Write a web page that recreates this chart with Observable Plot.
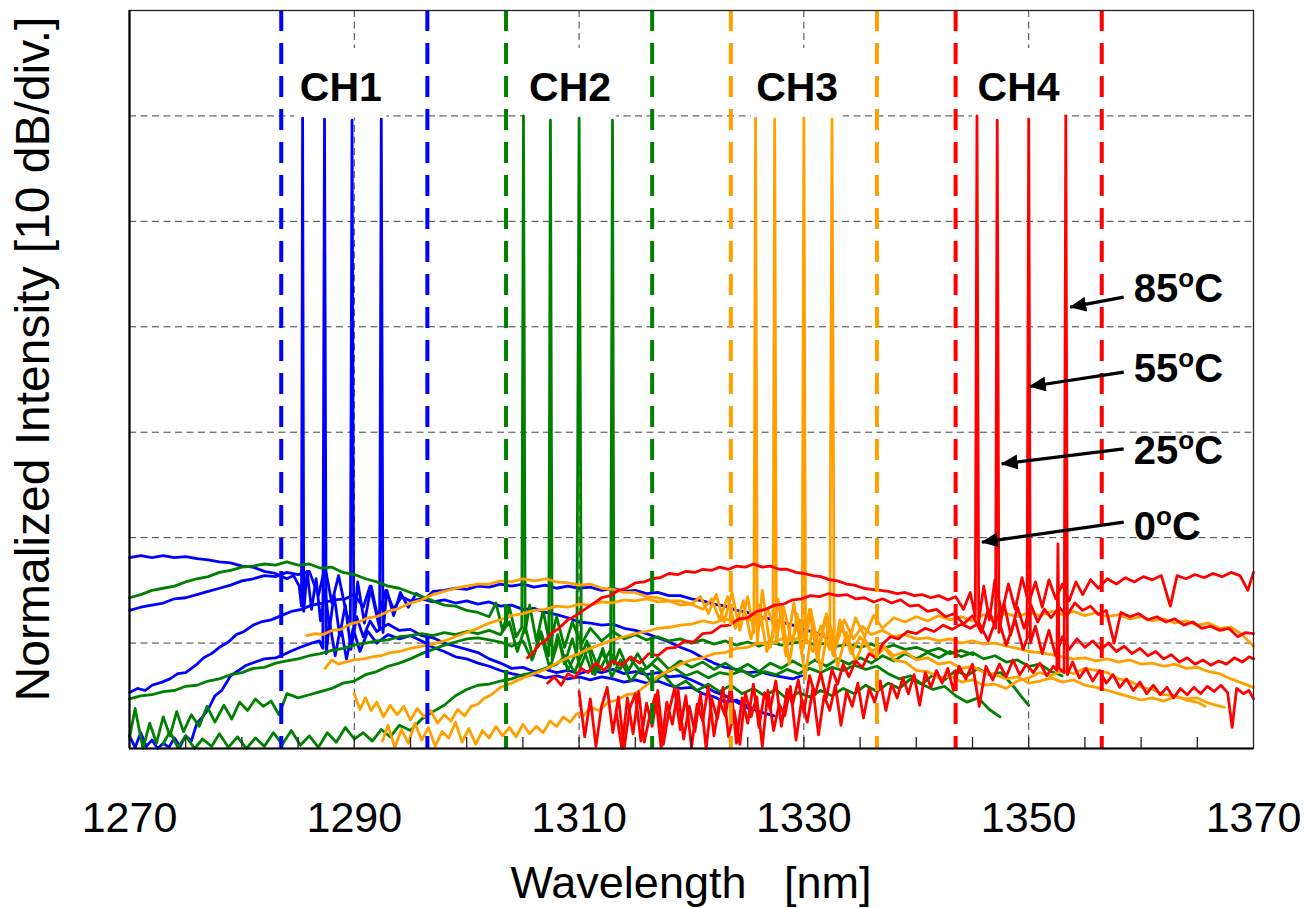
<!DOCTYPE html>
<html><head><meta charset="utf-8">
<script src="https://cdn.jsdelivr.net/npm/d3@7"></script>
<script src="https://cdn.jsdelivr.net/npm/@observablehq/plot@0.6"></script>
<style>body{margin:0;background:#fff}</style>
</head><body><div id="chart"></div>
<script>
// ---------- data ----------
const channels = ["CH1","CH2","CH3","CH4"];
const channelColors = ["#0000ff","#008000","#ffa000","#ff0000"];
const channelCenters = [1290,1310,1330,1350];
const channelHalfWidth = 6.5;
const chLabelX = [1288.8,1309.2,1329.4,1349.1];
const chLabelY = -7.3;
const xTickLabels = [1270,1290,1310,1330,1350,1370];
const xGrid = [1290,1310,1330,1350];
const yGrid = [-60,-50,-40,-30,-20,-10];
const minorTicks = [1275,1280,1285,1290,1295,1300,1305,1310,1315,1320,1325,1330,1335,1340,1345,1350,1355,1360,1365];
const temps = ["0","25","55","85"];
const tempLabelX = [1359.35,1359.35,1359.35,1359.35];
const tempLabelY = [-49.05,-41.8,-34.05,-26.45];
const arrowStartX = [1358.45,1358.45,1358.45,1358.45];
const arrowStartY = [-48.53,-41.58,-34.3,-27.19];
const arrowTipX = [1345.85,1347.6,1350.1,1353.7];
const arrowTipY = [-50.43,-43.0,-35.66,-28.14];

// CH1 (blue)
const ch1_0C = [[1270,-51.9],[1271,-51.7],[1272,-51.9],[1273,-51.7],[1274,-51.9],[1275,-51.8],[1276,-52.0],[1277,-52.1],[1278,-52.3],[1279,-52.4],[1280,-52.7],[1281,-52.8],[1282,-53.2],[1283,-53.4],[1284,-53.9],[1284.6,-53.6],[1285.1,-54.6],[1285.3,-56.5],[1285.4,-10.2],[1285.5,-57.0],[1285.8,-53.2],[1286.2,-56.8],[1286.6,-53.9],[1287.0,-57.9],[1287.4,-55.0],[1287.8,-58.6],[1288.2,-55.4],[1288.7,-59.3],[1289.2,-56.4],[1289.7,-60.6],[1290.2,-57.5],[1290.8,-59.4],[1291.4,-57.9],[1292,-58.9],[1293,-58.2],[1294,-58.8],[1295,-58.7],[1296,-59.3],[1297,-59.5],[1298,-60.0],[1299,-60.3],[1300,-60.6],[1301,-60.9],[1302,-61.5],[1303,-61.9],[1304,-62.4],[1305,-62.3],[1306,-62.7],[1307,-62.5],[1308,-62.8],[1309,-62.6],[1310,-62.9],[1311,-62.6],[1312,-62.8],[1313,-62.5],[1314,-62.9],[1315,-62.7],[1316,-63.0],[1317,-62.8],[1318,-63.2],[1319,-63.1],[1320,-63.5],[1321,-64.0],[1322,-64.6],[1323,-65.0],[1324,-65.6],[1325.4,-66.4]];
const ch1_25C = [[1270,-68.8],[1270.5,-69.9],[1271,-68.5],[1271.5,-69.8],[1272,-69.2],[1272.5,-70.0],[1273,-69.5],[1273.5,-69.9],[1274,-69.0],[1274.5,-69.8],[1275,-68.8],[1275.5,-69.3],[1276,-67.6],[1276.5,-67.0],[1277,-66.3],[1277.6,-65.0],[1278.2,-64.5],[1279,-63.1],[1279.7,-62.6],[1280.4,-62.1],[1281.2,-61.8],[1282,-61.5],[1283,-61.4],[1283.5,-61.2],[1284.3,-60.8],[1285.2,-60.4],[1286.2,-60.0],[1286.9,-59.8],[1287.2,-60.5],[1287.35,-10.3],[1287.5,-61.0],[1287.8,-58.0],[1288.3,-61.2],[1288.8,-58.4],[1289.3,-61.5],[1289.9,-58.6],[1290.5,-60.8],[1291.2,-58.9],[1292,-60.0],[1293,-59.2],[1294,-59.6],[1295,-59.3],[1296,-59.8],[1297,-60.4],[1298,-60.8],[1299,-61.3],[1300,-61.5],[1301,-61.9],[1302,-62.2],[1303,-62.6],[1304,-62.9],[1305,-63.1],[1306,-63.0],[1307,-63.3],[1308,-63.1],[1309,-63.4],[1310,-63.2],[1311,-63.5],[1312,-63.2],[1313,-63.4],[1314,-63.7],[1315,-63.5],[1316,-63.8],[1317,-63.6],[1318,-64.0],[1319,-64.3],[1320,-64.2],[1321,-64.8],[1322,-65.1],[1323,-65.6],[1324,-65.4],[1325,-66.0],[1326,-66.5],[1327.35,-66.9]];
const ch1_55C = [[1270,-56.9],[1271,-56.6],[1272,-56.4],[1273,-56.2],[1274,-55.8],[1275,-55.7],[1276,-55.4],[1277,-55.1],[1278,-54.8],[1279,-54.5],[1280,-54.1],[1281,-53.9],[1282,-53.6],[1283,-53.7],[1284,-53.3],[1285,-53.5],[1286,-53.2],[1286.8,-55.5],[1287.4,-52.8],[1288,-56.2],[1288.6,-53.6],[1289.3,-57.2],[1289.65,-58.0],[1289.8,-10.4],[1289.95,-58.5],[1290.3,-54.2],[1290.9,-58.1],[1291.5,-54.6],[1292.1,-57.6],[1292.8,-55.0],[1293.5,-56.8],[1294.2,-55.6],[1295,-56.0],[1296,-55.8],[1297,-56.1],[1298,-55.9],[1299,-56.2],[1300,-56.0],[1301,-56.3],[1302,-56.1],[1303,-56.5],[1304,-56.4],[1305,-56.8],[1306,-56.7],[1307,-57.1],[1308,-57.3],[1309,-57.6],[1310,-58.0],[1311,-58.1],[1312,-58.3],[1313,-58.2],[1314,-58.6],[1315,-58.8],[1316,-59.1],[1317,-59.5],[1318,-59.9],[1319,-60.4],[1320,-60.8],[1321,-61.4],[1322,-61.9],[1323,-62.3],[1324,-62.5],[1325,-62.8],[1326,-62.7],[1327,-63.0],[1328,-63.2],[1329,-63.4],[1329.8,-63.1]];
const ch1_85C = [[1270,-64.7],[1270.7,-64.3],[1271.4,-64.5],[1272,-64.0],[1272.9,-63.7],[1273.6,-63.4],[1274.3,-62.9],[1275,-62.8],[1275.9,-62.1],[1276.6,-61.4],[1277.3,-61.0],[1278,-60.4],[1278.8,-59.9],[1279.5,-59.2],[1280.2,-58.9],[1281,-58.3],[1281.7,-58.0],[1282.6,-57.8],[1283.5,-57.4],[1284.4,-57.0],[1285.3,-56.8],[1286.2,-56.4],[1287.2,-56.2],[1288.2,-55.9],[1289.2,-55.8],[1290,-55.4],[1290.8,-56.6],[1291.4,-54.6],[1292.0,-57.4],[1292.25,-58.6],[1292.4,-10.3],[1292.55,-59.0],[1292.9,-55.0],[1293.5,-57.4],[1294.1,-55.2],[1294.8,-56.6],[1295.5,-55.3],[1296.3,-55.8],[1297,-55.1],[1298,-55.0],[1299,-54.8],[1300,-54.9],[1301,-54.6],[1302,-54.7],[1303,-54.4],[1304,-54.6],[1305,-54.4],[1306,-54.7],[1307,-54.5],[1308,-54.8],[1309,-54.6],[1310,-54.8],[1311,-54.7],[1312,-55.0],[1313,-54.8],[1314,-55.1],[1315,-55.0],[1316,-55.3],[1317,-55.2],[1318,-55.5],[1319,-55.5],[1320,-55.8],[1321,-56.0],[1322,-56.3],[1323,-56.5],[1324,-56.9],[1325,-57.1],[1326,-57.5],[1327,-57.7],[1328,-58.0],[1329,-58.3],[1330,-58.7],[1331,-59.0],[1332.4,-59.6]];

// CH2 (green)
const ch2_0C = [[1270,-55.7],[1271,-55.4],[1272,-55.0],[1273,-54.8],[1274,-54.6],[1275,-54.2],[1276,-53.9],[1277,-53.7],[1278,-53.3],[1279,-53.1],[1280,-52.8],[1281,-52.7],[1282,-52.5],[1283,-52.6],[1284,-52.3],[1285,-52.6],[1286,-52.5],[1287,-52.9],[1288,-52.8],[1289,-53.3],[1290,-53.5],[1291,-53.9],[1292,-54.2],[1293,-54.6],[1294,-54.8],[1295,-55.2],[1296,-55.6],[1297,-56.0],[1298,-56.4],[1299,-56.5],[1300,-56.9],[1301,-57.1],[1302,-57.5],[1302.6,-56.2],[1303.2,-58.8],[1303.8,-56.6],[1304.4,-59.4],[1304.9,-58.5],[1305.05,-10.0],[1305.2,-59.0],[1305.6,-56.4],[1306.2,-59.8],[1306.8,-56.9],[1307.4,-60.2],[1308,-57.5],[1308.7,-60.4],[1309.4,-58.0],[1310.2,-60.1],[1311,-58.6],[1312,-59.8],[1313,-58.9],[1314,-59.6],[1315,-59.2],[1316,-59.7],[1317,-59.4],[1318,-59.8],[1319,-59.6],[1320,-60.0],[1321,-59.7],[1322,-60.1],[1323,-59.8],[1324,-60.2],[1325,-59.9],[1326,-60.3],[1327,-59.9],[1328,-60.2],[1329,-60.0],[1330,-59.8],[1331,-60.2],[1332,-60.0],[1333,-60.3],[1334,-60.1],[1335,-60.4],[1336,-60.1],[1337,-60.5],[1338,-60.2],[1339,-60.6],[1340,-60.4],[1341,-60.8],[1342,-60.5],[1343,-61.0],[1344,-60.7],[1345.05,-61.1]];
const ch2_25C = [[1270,-65.3],[1271,-65.0],[1272,-64.9],[1273,-64.6],[1274,-64.5],[1275,-64.1],[1276,-64.0],[1277,-63.6],[1278,-63.4],[1279,-63.0],[1280,-62.8],[1281,-62.4],[1282,-62.3],[1283,-61.9],[1284,-61.7],[1285,-61.5],[1286,-61.2],[1287,-61.0],[1288,-60.7],[1289,-60.5],[1290,-60.2],[1291,-60.0],[1292,-59.8],[1293,-59.7],[1294,-59.4],[1295,-59.3],[1296,-59.1],[1297,-59.3],[1298,-59.0],[1299,-59.2],[1300,-58.9],[1301,-59.1],[1302,-58.8],[1303,-59.2],[1303.8,-58.0],[1304.5,-60.8],[1305.2,-58.4],[1305.9,-61.4],[1306.6,-58.9],[1307.3,-61.2],[1307.45,-10.4],[1307.6,-61.6],[1308.1,-59.2],[1308.7,-62.0],[1309.4,-59.6],[1310.1,-62.3],[1310.9,-60.2],[1311.8,-62.6],[1312.7,-60.8],[1313.6,-62.5],[1314.5,-61.4],[1315.5,-62.7],[1316.5,-62.0],[1317.5,-62.9],[1318.5,-62.4],[1319.5,-63.1],[1320.5,-62.7],[1321.5,-63.3],[1322.5,-62.8],[1323.5,-63.0],[1324.5,-62.6],[1325.5,-63.2],[1326.5,-62.7],[1327.5,-63.0],[1328.5,-62.5],[1329.5,-62.9],[1330.5,-62.4],[1331.5,-62.8],[1332.5,-62.3],[1333.5,-62.6],[1334.5,-62.1],[1335.5,-62.5],[1336.5,-62.2],[1337.5,-62.9],[1338.5,-63.4],[1339.5,-63.1],[1340.5,-63.9],[1341.5,-64.4],[1342.5,-64.1],[1343.5,-65.0],[1344.5,-65.6],[1345.5,-65.2],[1346.5,-66.3],[1347.45,-67.0]];
const ch2_55C = [[1270,-69.0],[1270.5,-66.2],[1271.2,-70.0],[1271.8,-67.6],[1272.4,-69.5],[1273,-67.0],[1273.6,-68.8],[1274.2,-66.5],[1274.8,-68.4],[1275.5,-66.8],[1276.2,-67.9],[1276.9,-66.0],[1277.6,-67.5],[1278.4,-65.9],[1279.1,-67.2],[1279.8,-65.6],[1280.5,-66.4],[1281.2,-65.3],[1281.9,-66.0],[1282.6,-65.5],[1283.3,-66.8],[1284,-64.8],[1285,-65.2],[1286,-64.9],[1287,-64.6],[1288,-64.3],[1289,-63.8],[1290,-63.6],[1291,-63.0],[1292,-62.7],[1293,-62.2],[1294,-61.9],[1295,-61.5],[1296,-61.0],[1297,-60.6],[1298,-60.2],[1299,-59.9],[1300,-59.6],[1301,-59.5],[1302,-59.7],[1303,-59.9],[1304,-60.3],[1305,-59.8],[1305.8,-61.6],[1306.6,-59.2],[1307.4,-62.4],[1308.2,-59.6],[1309,-62.6],[1309.8,-60.8],[1310.0,-10.2],[1310.2,-61.2],[1310.7,-59.8],[1311.4,-63.0],[1312.1,-60.5],[1312.9,-63.2],[1313.7,-61.6],[1314.6,-63.6],[1315.5,-62.4],[1316.5,-63.8],[1317.5,-63.0],[1318.5,-64.2],[1319.5,-63.6],[1320.5,-64.5],[1321.5,-63.9],[1322.5,-64.6],[1323.5,-64.0],[1324.5,-64.8],[1325.5,-64.3],[1326.5,-65.0],[1327.5,-64.4],[1328.5,-65.3],[1329.5,-64.7],[1330.5,-65.1],[1331.5,-64.5],[1332.5,-65.0],[1333.5,-64.3],[1334.5,-64.8],[1335.5,-64.0],[1336.5,-64.6],[1337.5,-63.8],[1338.5,-64.3],[1339.5,-63.4],[1340.5,-63.9],[1341.5,-63.0],[1342.5,-63.5],[1343.5,-62.6],[1344.5,-63.1],[1345.5,-62.4],[1346.5,-63.0],[1347.5,-62.8],[1348.5,-63.9],[1349.3,-65.0],[1350,-65.9]];
const ch2_85C = [[1272.97,-69.6],[1273.6,-68.4],[1274.3,-69.9],[1275,-68.8],[1275.8,-70.0],[1276.5,-69.1],[1277.3,-69.8],[1278,-68.6],[1278.8,-69.9],[1279.6,-68.9],[1280.4,-70.0],[1281.2,-69.0],[1282,-69.8],[1282.8,-68.5],[1283.6,-69.6],[1284.4,-68.3],[1285.2,-69.7],[1286,-68.8],[1286.8,-69.9],[1287.6,-68.5],[1288.4,-69.4],[1289.2,-68.0],[1290,-69.1],[1290.8,-68.5],[1291.6,-69.3],[1292.4,-68.2],[1293.2,-68.9],[1294,-67.8],[1295,-68.3],[1296,-67.2],[1297,-66.5],[1298,-65.9],[1299,-65.0],[1300,-64.4],[1301,-64.0],[1302,-63.9],[1303,-63.6],[1304,-63.4],[1305,-63.0],[1306,-62.8],[1307,-62.4],[1308,-62.0],[1308.8,-61.2],[1309.6,-62.8],[1310.4,-60.6],[1311.2,-62.9],[1312,-60.9],[1312.8,-62.2],[1312.97,-10.4],[1313.1,-62.0],[1313.6,-60.6],[1314.4,-62.6],[1315.2,-61.0],[1316,-62.4],[1317,-61.4],[1318,-62.5],[1319,-61.7],[1320,-62.3],[1321,-61.8],[1322,-62.5],[1323,-61.9],[1324,-62.6],[1325,-62.0],[1326,-62.7],[1327,-61.9],[1328,-62.4],[1329,-61.7],[1330,-62.3],[1331,-61.6],[1332,-62.2],[1333,-61.5],[1334,-62.0],[1335,-61.4],[1336,-61.9],[1337,-61.2],[1338,-61.7],[1339,-61.0],[1340,-61.5],[1341,-60.9],[1342,-61.4],[1343,-60.8],[1344,-61.3],[1345,-60.9],[1346,-61.5],[1347,-61.2],[1348,-61.8],[1349,-61.6],[1350,-62.2],[1351,-62.0],[1352,-62.7],[1352.97,-63.1]];

// CH3 (orange)
const ch3_0C = [[1285.75,-59.3],[1286.5,-59.1],[1287.2,-59.2],[1288,-58.8],[1288.8,-58.7],[1289.6,-58.2],[1290.4,-58.0],[1291.2,-57.6],[1292,-57.5],[1293,-57.0],[1294,-56.7],[1295,-56.2],[1296,-55.9],[1297,-55.4],[1298,-55.1],[1299,-54.8],[1300,-54.6],[1301,-54.4],[1302,-54.4],[1303,-54.1],[1304,-54.2],[1305,-53.9],[1306,-54.1],[1307,-53.9],[1308,-54.2],[1309,-54.3],[1310,-54.5],[1311,-54.4],[1312,-54.8],[1313,-54.9],[1314,-55.2],[1315,-55.2],[1316,-55.6],[1317,-55.7],[1318,-56.0],[1319,-56.0],[1320,-56.3],[1320.8,-55.6],[1321.5,-57.2],[1322.2,-55.4],[1322.9,-58.0],[1323.6,-55.2],[1324.3,-58.8],[1325,-55.6],[1325.55,-59.0],[1325.7,-10.2],[1325.85,-60.0],[1326.3,-55.0],[1327,-60.4],[1327.7,-55.8],[1328.4,-61.2],[1329.1,-56.2],[1329.8,-61.0],[1330.5,-56.8],[1331.2,-61.6],[1331.9,-57.6],[1332.6,-61.2],[1333.4,-58.4],[1334.2,-61.0],[1335,-59.4],[1336,-60.8],[1337,-60.2],[1338,-61.6],[1339,-61.8],[1340,-62.6],[1341,-62.7],[1342,-63.3],[1343,-63.1],[1344,-63.7],[1345,-63.5],[1346,-64.0],[1347,-63.9],[1348,-64.3],[1349,-63.6],[1350,-63.3],[1351,-62.8],[1352,-63.1],[1353,-62.6],[1354,-62.9],[1355,-62.4],[1356,-62.6],[1357,-62.8],[1358,-63.4],[1359,-63.6],[1360,-64.2],[1361,-64.4],[1362,-64.9],[1363,-65.0],[1364,-65.4],[1365,-65.6],[1365.7,-66.0]];
const ch3_25C = [[1287.4,-62.4],[1288,-61.6],[1288.6,-62.0],[1289.2,-61.8],[1290,-61.6],[1290.8,-61.5],[1291.6,-61.3],[1292.4,-61.2],[1293.2,-60.9],[1294,-60.8],[1295,-60.5],[1296,-60.3],[1297,-60.1],[1298,-59.8],[1299,-59.4],[1300,-59.0],[1301,-58.6],[1302,-58.1],[1303,-57.8],[1304,-57.4],[1305,-57.2],[1306,-56.9],[1307,-56.8],[1308,-56.5],[1309,-56.6],[1310,-56.3],[1311,-56.4],[1312,-56.1],[1313,-56.2],[1314,-55.9],[1315,-56.0],[1316,-55.8],[1317,-56.1],[1318,-56.0],[1319,-56.4],[1320,-56.3],[1321,-56.8],[1321.8,-55.8],[1322.5,-57.8],[1323.2,-55.6],[1323.9,-58.6],[1324.6,-56.0],[1325.3,-59.6],[1326,-56.4],[1326.7,-60.8],[1327.25,-59.4],[1327.4,-10.3],[1327.55,-60.0],[1328,-56.6],[1328.7,-62.0],[1329.4,-57.2],[1330.1,-63.4],[1330.8,-58.0],[1331.5,-62.6],[1332.2,-58.2],[1333,-62.2],[1333.8,-59.0],[1334.6,-61.8],[1335.4,-59.6],[1336.3,-61.4],[1337.2,-60.4],[1338,-61.2],[1339,-60.8],[1340,-61.6],[1341,-61.4],[1342,-62.0],[1343,-61.8],[1344,-62.4],[1345,-62.2],[1346,-62.8],[1347,-63.0],[1348,-63.4],[1349,-63.2],[1350,-63.8],[1351,-63.6],[1352,-63.3],[1353,-63.7],[1354,-63.5],[1355,-64.0],[1356,-64.2],[1357,-64.5],[1358,-64.8],[1359,-65.1],[1360,-65.4],[1361,-65.2],[1362,-65.5],[1363,-65.1],[1364,-65.3],[1365,-65.2],[1366,-65.7],[1367.4,-66.1]];
const ch3_55C = [[1290,-64.8],[1290.5,-66.3],[1291,-65.2],[1291.5,-66.4],[1292,-65.6],[1292.6,-67.0],[1293.2,-65.9],[1293.8,-66.8],[1294.4,-66.0],[1295,-67.3],[1295.6,-66.2],[1296.2,-67.0],[1296.8,-66.4],[1297.4,-67.6],[1298,-66.8],[1298.6,-67.4],[1299.2,-66.3],[1299.8,-66.9],[1300.4,-66.0],[1301,-65.8],[1301.6,-65.2],[1302.2,-64.9],[1303,-64.2],[1304,-63.8],[1305,-63.3],[1306,-62.9],[1307,-62.5],[1308,-61.9],[1309,-61.4],[1310,-61.0],[1311,-60.5],[1312,-60.1],[1313,-59.7],[1314,-59.4],[1315,-59.1],[1316,-58.9],[1317,-58.6],[1318,-58.5],[1319,-58.3],[1320,-58.2],[1321,-57.9],[1322,-58.1],[1323,-57.7],[1324,-58.0],[1325,-57.6],[1326,-58.4],[1326.8,-56.8],[1327.5,-59.0],[1328.2,-56.6],[1328.9,-59.8],[1329.6,-57.8],[1329.85,-59.5],[1330,-10.2],[1330.15,-60.0],[1330.6,-56.8],[1331.3,-60.4],[1332,-57.2],[1332.8,-60.0],[1333.6,-57.8],[1334.4,-59.6],[1335.2,-58.4],[1336,-59.2],[1337,-58.8],[1338,-59.4],[1339,-59.2],[1340,-59.6],[1341,-59.5],[1342,-59.8],[1343,-59.6],[1344,-60.0],[1345,-59.8],[1346,-60.1],[1347,-60.0],[1348,-60.3],[1349,-60.5],[1350,-60.8],[1351,-60.9],[1352,-61.1],[1353,-61.3],[1354,-61.5],[1355,-61.4],[1356,-61.7],[1357,-61.5],[1358,-61.8],[1359,-61.6],[1360,-62.0],[1361,-61.9],[1362,-62.2],[1363,-62.0],[1364,-62.4],[1365,-62.3],[1366,-62.7],[1367,-62.9],[1368,-63.4],[1369,-63.8],[1370,-64.2]];
const ch3_85C = [[1292.5,-69.3],[1293,-67.8],[1293.6,-69.9],[1294.2,-68.2],[1294.8,-69.5],[1295.4,-67.6],[1296,-69.2],[1296.6,-68.0],[1297.2,-69.8],[1297.8,-68.4],[1298.4,-69.0],[1299,-67.5],[1299.6,-69.4],[1300.2,-68.1],[1300.8,-69.6],[1301.4,-68.3],[1302,-69.0],[1302.6,-67.9],[1303.2,-68.8],[1303.8,-68.0],[1304.4,-68.9],[1305,-67.7],[1305.6,-68.6],[1306.2,-67.9],[1306.8,-68.5],[1307.4,-67.4],[1308,-67.9],[1308.6,-67.0],[1309.2,-67.5],[1309.8,-66.7],[1310.4,-66.9],[1311,-66.1],[1311.8,-66.4],[1312.6,-65.6],[1313.4,-65.4],[1314.2,-64.9],[1315,-64.8],[1316,-64.0],[1317,-63.2],[1318,-62.6],[1319,-62.0],[1320,-61.6],[1321,-61.4],[1322,-61.0],[1323,-60.9],[1324,-60.5],[1325,-60.4],[1326,-60.0],[1327,-60.1],[1328,-59.6],[1329,-59.8],[1330,-59.2],[1330.8,-60.8],[1331.5,-58.4],[1332.3,-60.6],[1332.5,-10.3],[1332.7,-61.0],[1333.2,-57.8],[1333.9,-60.2],[1334.6,-57.6],[1335.4,-59.4],[1336.2,-57.4],[1337,-58.6],[1338,-57.6],[1339,-58.0],[1340,-57.5],[1341,-57.9],[1342,-57.4],[1343,-57.8],[1344,-57.5],[1345,-57.9],[1346,-57.3],[1347,-57.6],[1348,-57.2],[1349,-57.5],[1350,-57.1],[1351,-57.4],[1352,-57.0],[1353,-57.3],[1354,-57.0],[1355,-57.4],[1356,-57.1],[1357,-57.5],[1358,-57.3],[1359,-57.7],[1360,-57.5],[1361,-57.9],[1362,-57.7],[1363,-58.1],[1364,-57.9],[1365,-58.3],[1366,-58.1],[1367,-58.6],[1368,-58.5],[1369,-59.2],[1370,-60.3]];

// CH4 (red)
const ch4_0C = [[1305.4,-61.4],[1306,-60.8],[1306.5,-60.1],[1307,-59.8],[1307.5,-59.1],[1308.2,-58.6],[1309,-57.8],[1309.7,-57.4],[1310.5,-56.8],[1311.2,-56.3],[1312,-55.7],[1312.8,-55.5],[1313.5,-55.0],[1314.2,-54.8],[1315,-54.3],[1315.8,-54.2],[1316.5,-53.9],[1317.2,-53.8],[1318,-53.4],[1318.8,-53.5],[1319.5,-53.2],[1320.3,-53.3],[1321,-53.0],[1321.8,-53.1],[1322.5,-52.8],[1323.3,-53.0],[1324,-52.7],[1324.8,-52.8],[1325.5,-52.5],[1326.3,-52.8],[1327,-52.7],[1327.8,-53.0],[1328.5,-53.0],[1329.3,-53.3],[1330,-53.4],[1330.8,-53.6],[1331.5,-53.7],[1332.3,-54.0],[1333,-54.1],[1333.8,-54.4],[1334.5,-54.5],[1335.3,-54.8],[1336,-54.9],[1336.8,-55.0],[1337.5,-55.1],[1338.3,-55.3],[1339,-55.2],[1339.8,-55.5],[1340.5,-55.4],[1341.3,-55.7],[1342,-55.5],[1342.8,-55.9],[1343.5,-55.6],[1344.2,-56.8],[1344.8,-55.2],[1345.25,-57.5],[1345.4,-10.0],[1345.55,-58.0],[1346,-54.6],[1346.5,-57.8],[1347,-54.0],[1347.6,-57.2],[1348.2,-54.4],[1348.8,-56.8],[1349.4,-53.8],[1350,-56.2],[1350.6,-54.2],[1351.2,-56.6],[1351.8,-54.0],[1352.4,-55.8],[1353,-54.4],[1353.6,-56.0],[1354.2,-54.2],[1354.8,-55.4],[1355.5,-54.0],[1356.2,-54.8],[1357,-53.9],[1357.8,-54.4],[1358.6,-53.8],[1359.4,-54.2],[1360.2,-53.7],[1361,-54.0],[1361.8,-53.6],[1362.6,-56.5],[1363.2,-53.6],[1364,-53.9],[1364.8,-53.5],[1365.6,-53.8],[1366.4,-53.4],[1367.2,-53.7],[1368,-53.3],[1368.8,-53.6],[1369.5,-55.0],[1370,-53.3]];
const ch4_25C = [[1307.2,-63.8],[1307.8,-63.2],[1308.4,-64.0],[1309,-62.9],[1309.6,-63.3],[1310.2,-62.4],[1310.8,-62.8],[1311.5,-61.9],[1312.2,-62.6],[1313,-61.7],[1313.8,-62.1],[1314.6,-61.3],[1315.4,-61.9],[1316.2,-61.0],[1317,-61.2],[1317.8,-60.5],[1318.6,-60.4],[1319.4,-59.8],[1320.2,-59.9],[1321,-59.1],[1321.8,-59.0],[1322.6,-58.4],[1323.4,-58.3],[1324.2,-57.7],[1325,-57.6],[1325.8,-57.0],[1326.6,-56.8],[1327.4,-56.4],[1328.2,-56.3],[1329,-55.9],[1329.8,-55.8],[1330.6,-55.5],[1331.4,-55.6],[1332.2,-55.3],[1333,-55.5],[1333.8,-55.4],[1334.6,-55.8],[1335.4,-55.7],[1336.2,-56.1],[1337,-55.8],[1337.8,-56.2],[1338.6,-55.9],[1339.4,-56.5],[1340.2,-56.4],[1341,-57.0],[1341.8,-56.8],[1342.6,-57.5],[1343.4,-57.2],[1344.2,-58.2],[1345,-57.4],[1345.8,-59.0],[1346.4,-56.8],[1347.05,-58.6],[1347.2,-10.4],[1347.35,-59.0],[1347.8,-56.2],[1348.4,-59.2],[1349,-56.6],[1349.6,-58.6],[1350.2,-56.4],[1350.8,-58.0],[1351.4,-56.8],[1352,-57.6],[1352.7,-56.6],[1353.4,-57.4],[1354.1,-56.2],[1354.8,-56.9],[1355.5,-56.5],[1356.2,-57.3],[1356.9,-56.9],[1357.6,-60.0],[1358.2,-57.1],[1359,-57.5],[1359.8,-57.2],[1360.6,-57.8],[1361.4,-57.5],[1362.2,-58.0],[1363,-57.7],[1363.8,-58.3],[1364.6,-58.0],[1365.4,-58.6],[1366.2,-58.4],[1367,-58.8],[1367.8,-58.6],[1368.6,-59.4],[1369.3,-59.0],[1370,-59.1]];
const ch4_55C = [[1310,-64.6],[1310.5,-68.9],[1311,-65.3],[1311.5,-69.8],[1312,-66.0],[1312.5,-64.2],[1313,-68.5],[1313.5,-65.1],[1314,-70.0],[1314.5,-66.2],[1315,-64.8],[1315.5,-69.3],[1316,-65.7],[1316.5,-67.9],[1317,-64.5],[1317.5,-69.6],[1318,-66.4],[1318.5,-64.3],[1319,-68.2],[1319.5,-65.0],[1320,-69.9],[1320.5,-65.8],[1321,-67.4],[1321.5,-64.1],[1322,-68.8],[1322.5,-65.5],[1323,-66.9],[1323.5,-64.0],[1324,-69.5],[1324.5,-65.2],[1325,-67.6],[1325.5,-63.9],[1326,-68.0],[1326.5,-64.7],[1327,-66.3],[1327.5,-63.6],[1328,-67.9],[1328.5,-64.4],[1329,-65.8],[1329.5,-63.5],[1330,-66.6],[1330.5,-63.1],[1331,-64.9],[1331.5,-62.8],[1332,-65.2],[1332.5,-62.5],[1333,-63.9],[1333.5,-62.0],[1334,-63.2],[1334.6,-61.7],[1335.2,-62.3],[1335.8,-61.0],[1336.4,-61.4],[1337,-60.1],[1337.7,-59.4],[1338.4,-59.6],[1339.2,-58.9],[1340,-59.1],[1340.8,-58.6],[1341.6,-58.9],[1342.4,-58.3],[1343.2,-58.7],[1344,-58.2],[1344.8,-58.6],[1345.6,-58.1],[1346.4,-59.8],[1347.2,-57.4],[1348,-60.2],[1348.8,-57.8],[1349.5,-60.6],[1349.85,-59.6],[1350,-10.3],[1350.15,-60.0],[1350.6,-58.4],[1351.2,-61.0],[1351.8,-58.8],[1352.4,-61.2],[1353,-59.4],[1353.6,-60.6],[1354.3,-59.6],[1355,-60.4],[1355.7,-59.8],[1356.4,-60.6],[1357.1,-60.0],[1357.8,-60.8],[1358.5,-60.3],[1359.2,-61.0],[1359.9,-60.5],[1360.6,-61.2],[1361.3,-60.8],[1362,-61.5],[1362.7,-61.1],[1363.4,-61.8],[1364.1,-61.4],[1364.8,-62.0],[1365.5,-61.6],[1366.2,-62.1],[1366.9,-61.7],[1367.6,-62.0],[1368.3,-61.4],[1369,-61.8],[1369.6,-61.3],[1370,-61.5]];
const ch4_85C = [[1313.3,-66.5],[1313.8,-70.0],[1314.3,-65.2],[1314.8,-68.6],[1315.3,-64.6],[1315.8,-69.4],[1316.3,-66.8],[1316.8,-64.9],[1317.3,-69.9],[1317.8,-65.6],[1318.3,-67.7],[1318.8,-64.4],[1319.3,-69.1],[1319.8,-66.0],[1320.3,-68.4],[1320.8,-64.8],[1321.3,-70.0],[1321.8,-65.3],[1322.3,-67.2],[1322.8,-64.2],[1323.3,-68.9],[1323.8,-66.4],[1324.3,-69.6],[1324.8,-64.7],[1325.3,-67.0],[1325.8,-65.1],[1326.3,-69.8],[1326.8,-64.5],[1327.3,-68.3],[1327.8,-65.8],[1328.3,-66.9],[1328.8,-64.1],[1329.3,-69.2],[1329.8,-65.4],[1330.3,-67.5],[1330.8,-64.3],[1331.3,-68.7],[1331.8,-65.0],[1332.3,-66.4],[1332.8,-64.0],[1333.3,-67.8],[1333.8,-64.6],[1334.3,-66.0],[1334.8,-63.8],[1335.3,-67.1],[1335.8,-64.3],[1336.3,-65.6],[1336.8,-63.6],[1337.3,-66.4],[1337.8,-63.9],[1338.3,-65.2],[1338.8,-63.3],[1339.3,-64.8],[1339.8,-63.0],[1340.3,-65.9],[1340.8,-62.8],[1341.3,-64.2],[1341.8,-62.6],[1342.3,-63.8],[1342.8,-62.4],[1343.3,-64.5],[1343.8,-62.2],[1344.4,-63.4],[1345,-62.0],[1345.6,-66.0],[1346.2,-62.2],[1346.8,-63.5],[1347.4,-62.0],[1348,-63.2],[1348.6,-61.6],[1349.2,-63.0],[1349.8,-62.0],[1350.4,-62.8],[1351,-61.9],[1351.6,-63.1],[1352.2,-62.2],[1352.5,-62.6],[1352.6,-50.6],[1352.7,-62.4],[1353.15,-62.8],[1353.3,-10.0],[1353.45,-63.0],[1353.9,-61.8],[1354.5,-63.3],[1355.1,-62.4],[1355.7,-63.6],[1356.3,-62.6],[1356.9,-63.8],[1357.5,-63.0],[1358.1,-64.2],[1358.7,-63.4],[1359.3,-64.5],[1359.9,-63.7],[1360.5,-64.8],[1361.1,-64.0],[1361.7,-64.9],[1362.3,-64.2],[1362.9,-65.2],[1363.5,-64.3],[1364.1,-64.9],[1364.7,-64.2],[1365.3,-64.8],[1365.9,-64.1],[1366.5,-64.6],[1367.1,-64.0],[1367.7,-64.7],[1368.1,-68.0],[1368.5,-64.3],[1369.1,-64.8],[1369.6,-64.5],[1370,-65.3]];

// ---------- build ----------
const series = [
  ["CH1","0",ch1_0C],["CH1","25",ch1_25C],["CH1","55",ch1_55C],["CH1","85",ch1_85C],
  ["CH2","0",ch2_0C],["CH2","25",ch2_25C],["CH2","55",ch2_55C],["CH2","85",ch2_85C],
  ["CH3","0",ch3_0C],["CH3","25",ch3_25C],["CH3","55",ch3_55C],["CH3","85",ch3_85C],
  ["CH4","0",ch4_0C],["CH4","25",ch4_25C],["CH4","55",ch4_55C],["CH4","85",ch4_85C]
];
const rows = series.flatMap(([ch,t,pts]) => pts.map(([x,y]) => ({ch, key: ch+"-"+t, x, y})));
const edges = channels.flatMap((c,i) => [{ch:c, x:channelCenters[i]-channelHalfWidth},{ch:c, x:channelCenters[i]+channelHalfWidth}]);
const xDomain = [1270,1370], yDomain = [-70,0];
const W = 1306, H = 908, mL = 129, mR = 53, mT = 10, mB = 160;
const frameH = H - mT - mB;

const plot = Plot.plot({
  width: W, height: H,
  marginLeft: mL, marginRight: mR, marginTop: mT, marginBottom: mB,
  x: {domain: xDomain, label: null},
  y: {domain: yDomain, axis: null, label: null},
  color: {domain: channels, range: channelColors},
  style: {fontFamily: '"Liberation Sans", Arial, Helvetica, sans-serif', background: "white", color: "black"},
  marks: [
    Plot.gridX(xGrid, {stroke: "#404040", strokeOpacity: 1, strokeWidth: 1, strokeDasharray: "7,4.5"}),
    Plot.gridY(yGrid, {stroke: "#404040", strokeOpacity: 1, strokeWidth: 1, strokeDasharray: "7,4.5"}),
    Plot.rect(channels, {x1: (d,i) => chLabelX[i]-4.1, x2: (d,i) => chLabelX[i]+4.1, y1: -3.6, y2: -10.2, fill: "white"}),
    Plot.line(rows, {x: "x", y: "y", z: "key", stroke: "ch", strokeWidth: 2.8, strokeLinejoin: "round"}),
    Plot.ruleX(edges, {x: "x", stroke: "ch", strokeWidth: 4, strokeDasharray: "21,12"}),
    Plot.text(channels, {x: (d,i) => chLabelX[i], y: chLabelY, text: d => d, fontSize: 41, fontWeight: "bold", fill: "black"}),
    Plot.link(temps, {x1: (d,i) => arrowStartX[i], y1: (d,i) => arrowStartY[i], x2: (d,i) => arrowTipX[i], y2: (d,i) => arrowTipY[i], stroke: "black", strokeWidth: 3.2}),
    Plot.text(temps, {x: (d,i) => tempLabelX[i], y: (d,i) => tempLabelY[i], text: d => d + "oC", textAnchor: "start", fontSize: 40, fontWeight: "bold", fill: "black"}),
    Plot.ruleX(minorTicks, {stroke: "#222", strokeWidth: 1.3, insetTop: frameH - 11}),
    Plot.frame({stroke: "#222", strokeWidth: 1.3}),
    Plot.ruleX([xDomain[0]], {stroke: "black", strokeWidth: 2.2}),
    Plot.ruleY([yDomain[0]], {stroke: "black", strokeWidth: 2.2}),
    Plot.axisX(xTickLabels, {tickSize: 0, tickPadding: 53, fontSize: 43, tickFormat: d => String(d), label: null})
  ]
});
document.getElementById("chart").append(plot);

// ---------- post: arrowheads, superscripts, axis titles ----------
const svg = plot.tagName.toLowerCase() === "svg" ? plot : plot.querySelector("svg");
const ns = "http://www.w3.org/2000/svg";
const defs = document.createElementNS(ns, "defs");
const marker = document.createElementNS(ns, "marker");
marker.setAttribute("id", "ahead");
marker.setAttribute("viewBox", "0 0 17 15");
marker.setAttribute("markerWidth", "17");
marker.setAttribute("markerHeight", "15");
marker.setAttribute("refX", "16");
marker.setAttribute("refY", "7.5");
marker.setAttribute("orient", "auto");
marker.setAttribute("markerUnits", "userSpaceOnUse");
const mp = document.createElementNS(ns, "path");
mp.setAttribute("d", "M0,0L17,7.5L0,15Z");
mp.setAttribute("fill", "black");
marker.append(mp); defs.append(marker); svg.prepend(defs);
svg.querySelectorAll('g[aria-label="link"] path').forEach(p => p.setAttribute("marker-end", "url(#ahead)"));

svg.querySelectorAll("text").forEach(t => {
  const m = /^(\d+)oC$/.exec(t.textContent);
  if (!m) return;
  t.textContent = m[1];
  const o = document.createElementNS(ns, "tspan");
  o.setAttribute("font-size", "26"); o.setAttribute("dy", "-15"); o.textContent = "o";
  const c = document.createElementNS(ns, "tspan");
  c.setAttribute("font-size", "40"); c.setAttribute("dy", "15"); c.textContent = "C";
  t.append(o, c);
});

const s = d3.select(svg);
s.append("text").attr("x", (mL + W - mR) / 2).attr("y", 898).attr("text-anchor", "middle")
  .attr("font-size", 45).attr("fill", "black").text("Wavelength\u00a0\u00a0\u00a0[nm]");
s.append("text").attr("transform", "translate(49,359) rotate(-90)").attr("text-anchor", "middle")
  .attr("font-size", 48).attr("fill", "black").text("Normalized Intensity [10 dB/div.]");
</script>
</body></html>
